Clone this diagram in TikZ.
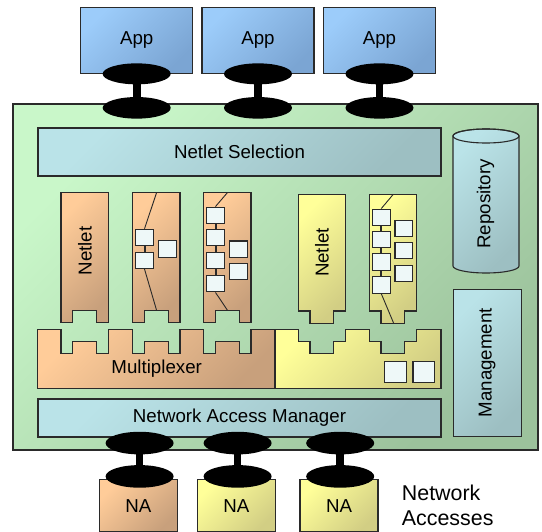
\documentclass[tikz,border=0pt]{standalone}
\usepackage{fontspec}
\setmainfont{Liberation Sans}
\usetikzlibrary{calc}

\definecolor{gl}{HTML}{C9F7C9}
\definecolor{gd}{HTML}{9CC29C}
\definecolor{tl}{HTML}{BAE3E8}
\definecolor{td}{HTML}{9DBFC2}
\definecolor{bl}{HTML}{9CCCFA}
\definecolor{bd}{HTML}{7BA5D3}
\definecolor{ol}{HTML}{FFCC99}
\definecolor{od}{HTML}{C8A07C}
\definecolor{yl}{HTML}{FFFF99}
\definecolor{yd}{HTML}{D2CE84}
\definecolor{cw}{HTML}{EEF8F8}
\definecolor{b}{HTML}{2A2A2A}

\begin{document}
\begin{tikzpicture}[x=1pt, y=-1pt,
	txt/.style={font=\fontsize{18.7}{22}\selectfont, text=black},
	edge/.style={draw=b, line width=1.1},
	greenbox/.style={edge, left color=gl, right color=gd, shading angle=45},
	tealbox/.style={edge, left color=tl, right color=td, shading angle=45},
	bluebox/.style={edge, left color=bl, right color=bd, shading angle=45},
	orangebox/.style={edge, left color=ol, right color=od, shading angle=45},
	yellowbox/.style={edge, left color=yl, right color=yd, shading angle=45},
	cell/.style={draw=b, line width=1.1, fill=cw, minimum width=17.6, minimum height=16.4, inner sep=0},
	wire/.style={draw=b, line width=0.9},
	link/.style={draw=b, line width=2},
	plug/.style={fill=black}
]
	\useasboundingbox (0,0) rectangle (542,532);

	% node body
	\node[greenbox, minimum width=525, minimum height=346] (platform) at (275.5,277) {};

	% applications and network accesses
	\foreach \i/\x in {1/136.7, 2/258, 3/379.5}
		\node[bluebox, txt, minimum width=112, minimum height=66] (app\i) at (\x,40.3) {App};
	\foreach \i/\x/\s in {1/138.4/orangebox, 2/236.4/yellowbox, 3/339/yellowbox}
		\node[\s, txt, minimum width=78, minimum height=51.5] (na\i) at (\x,505.7) {NA};

	\node[tealbox, txt, minimum width=403, minimum height=48] (sel) at (239.5,152) {Netlet Selection};
	\node[tealbox, txt, minimum width=403, minimum height=38] (nam) at (239.5,418) {Network Access Manager};

	\node[tealbox, minimum width=68, minimum height=147] (mgmt) at (487.2,362.7) {};
	\node[txt, rotate=90] (mgmtlbl) at (mgmt) {Management};

	% repository drum
	\draw[tealbox] (453,136) -- (453,266) arc[start angle=180, end angle=360, x radius=33pt, y radius=7pt]
		-- (519,136) arc[start angle=0, end angle=180, x radius=33pt, y radius=7pt] -- cycle;
	\draw[edge] (486,136) ellipse[x radius=33pt, y radius=7pt];
	\node[txt, rotate=90] (repo) at (485.5,204) {Repository};

	% multiplexer with slots
	\draw[orangebox] (37.3,329.3) \foreach \x in {61, 132.3, 203.3} {
		-- (\x,329.3) -- (\x,353.3) -- (\x+11.8,353.3) -- (\x+11.8,341.7)
		-- (\x+35.9,341.7) -- (\x+35.9,353.3) -- (\x+47.7,353.3) -- (\x+47.7,329.3)
	} -- (275,329.3) -- (275,388.3) -- (37.3,388.3) -- cycle;
	\draw[yellowbox] (275,329.3) \foreach \x in {298.3, 369.3} {
		-- (\x,329.3) -- (\x,341.7) -- (\x+11.7,341.7) -- (\x+11.7,353.3)
		-- (\x+35,353.3) -- (\x+35,341.7) -- (\x+47.4,341.7) -- (\x+47.4,329.3)
	} -- (441,329.3) -- (441,388.3) -- (275,388.3) -- cycle;
	\node[txt] (muxlbl) at (156.7,368.3) {Multiplexer};
	\node[cell, minimum width=21.7, minimum height=20.6] (m1) at (395.2,372) {};
	\node[cell, minimum width=21.7, minimum height=20.6] (m2) at (423.8,372) {};

	% netlets
	\foreach \x in {61, 132.3, 203.3}
		\draw[orangebox] (\x,192.3) -- (\x+47.7,192.3) -- (\x+47.7,322.7) -- (\x+35.9,322.7)
			-- (\x+35.9,310.7) -- (\x+11.8,310.7) -- (\x+11.8,322.7) -- (\x,322.7) -- cycle;
	\foreach \x in {298.3, 369.3}
		\draw[yellowbox] (\x,194.3) -- (\x+47.4,194.3) -- (\x+47.4,311) -- (\x+35,311)
			-- (\x+35,323.3) -- (\x+11.7,323.3) -- (\x+11.7,311) -- (\x,311) -- cycle;
	\node[txt, rotate=90] (nl1) at (84.9,251) {Netlet};
	\node[txt, rotate=90] (nl4) at (322,252.5) {Netlet};

	% building blocks inside the netlets
	\coordinate (t2) at (156.7,192.3);
	\coordinate (b2) at (156.7,310.7);
	\node[cell] (c21) at (144.5,237.5) {};
	\node[cell] (c22) at (144.5,260.3) {};
	\node[cell] (r21) at (167.3,249.1) {};
	\draw[wire] (t2) -- (c21.north);
	\draw[link] (c21.south) -- (c22.north);
	\draw[wire] (c22.south) -- (b2);

	\coordinate (t3) at (227.7,192.3);
	\coordinate (b3) at (227.7,310.7);
	\foreach \k/\y in {1/215.3, 2/237.5, 3/260.3, 4/283.7}
		\node[cell] (c3\k) at (215.5,\y) {};
	\foreach \k/\y in {1/249.2, 2/271.7}
		\node[cell] (r3\k) at (238.3,\y) {};
	\draw[wire] (t3) -- (c31.north);
	\foreach \k in {1,2,3}{
		\pgfmathtruncatemacro{\j}{\k+1}
		\draw[link] (c3\k.south) -- (c3\j.north);
	}
	\draw[wire] (c34.south) -- (b3);

	\coordinate (t5) at (393.3,194.3);
	\coordinate (b5) at (393.7,323.3);
	\foreach \k/\y in {1/217.3, 2/239.7, 3/262, 4/285}
		\node[cell] (c5\k) at (381.3,\y) {};
	\foreach \k/\y in {1/228.5, 2/250.7, 3/273.3}
		\node[cell] (r5\k) at (403.8,\y) {};
	\draw[wire] (t5) -- (c51.north);
	\foreach \k in {1,2,3}{
		\pgfmathtruncatemacro{\j}{\k+1}
		\draw[link] (c5\k.south) -- (c5\j.north);
	}
	\draw[wire] (c54.south) -- (b5);

	% plugs
	\foreach \i in {1,2,3}{
		\fill[plug] ($(app\i.south)+(-3.8,0)$) rectangle ($(app\i.south)+(3.8,34)$);
		\fill[plug] (app\i.south) ellipse[x radius=34pt, y radius=10.5pt];
		\fill[plug] ($(app\i.south)+(0,34)$) ellipse[x radius=34pt, y radius=10.8pt];
	}
	\foreach \i in {1,2,3}{
		\coordinate (pt\i) at ($(na\i.north)+(1.2,-36.3)$);
		\coordinate (pb\i) at ($(na\i.north)+(1.2,-3)$);
		\fill[plug] ($(pt\i)+(-3.8,0)$) rectangle ($(pb\i)+(3.8,0)$);
		\fill[plug] (pt\i) ellipse[x radius=34pt, y radius=11.3pt];
		\fill[plug] (pb\i) ellipse[x radius=34pt, y radius=11.3pt];
	}

	\node[font=\fontsize{21.4}{25}\selectfont, align=left, anchor=north west, inner sep=0] (nalbl) at (401.7,485) {Network\\Accesses};
\end{tikzpicture}
\end{document}
